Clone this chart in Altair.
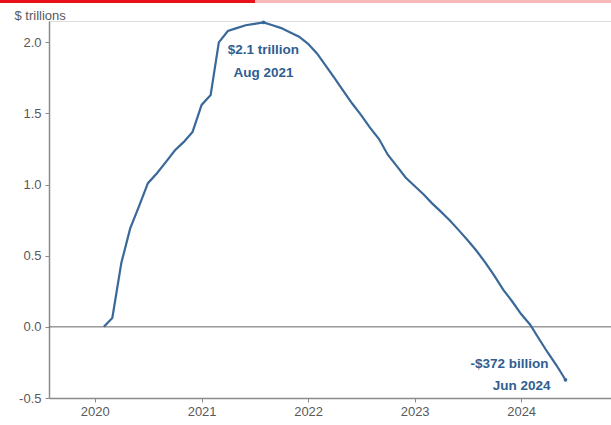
import altair as alt
import pandas as pd

# Monthly values, Feb 2020 .. Jun 2024 ($ trillions)
months = (
    ["2020-%02d" % m for m in range(2, 13)]
    + ["2021-%02d" % m for m in range(1, 13)]
    + ["2022-%02d" % m for m in range(1, 13)]
    + ["2023-%02d" % m for m in range(1, 13)]
    + ["2024-%02d" % m for m in range(1, 7)]
)
values = [
    0.0, 0.063, 0.45, 0.69, 0.85, 1.01, 1.08, 1.16, 1.24, 1.30, 1.37,
    1.56, 1.63, 2.00, 2.08, 2.10, 2.12, 2.13, 2.14, 2.12, 2.10, 2.07, 2.04,
    1.99, 1.92, 1.84, 1.75, 1.66, 1.57, 1.49, 1.40, 1.32, 1.21, 1.13, 1.05,
    0.99, 0.93, 0.87, 0.81, 0.75, 0.68, 0.61, 0.535, 0.45, 0.36, 0.26, 0.18,
    0.09, 0.015, -0.08, -0.18, -0.27, -0.372,
]

ann_months = ["2021-08", "2024-06"]
ann_values = [2.14, -0.372]
ann_line1 = ["$2.1 trillion", "-$372 billion"]
ann_line2 = ["Aug 2021", "Jun 2024"]

y_ticks = [-0.5, 0.0, 0.5, 1.0, 1.5, 2.0]

df = pd.DataFrame({"date": [m + "-01" for m in months], "value": values})
ann = pd.DataFrame({
    "date": [m + "-01" for m in ann_months],
    "value": ann_values,
    "l1": ann_line1,
    "l2": ann_line2,
})

BLUE = "#3a6898"
TXT_BLUE = "#2f5e91"
GRAY = "#8a8a8a"
LABEL = "#595959"

xscale = alt.Scale(
    type="utc",
    domain=[alt.DateTime(year=2019, month=7, date=28, utc=True),
            alt.DateTime(year=2024, month=11, date=4, utc=True)],
)
yscale = alt.Scale(domain=[-0.5, 2.15], nice=False, zero=False)

x_enc = alt.X(
    "date:T", scale=xscale,
    axis=alt.Axis(format="%Y", tickCount="year", title=None, grid=False,
                  domainColor=GRAY, domainWidth=1.5, tickColor=GRAY, tickSize=4,
                  labelColor=LABEL, labelFontSize=13, labelPadding=3),
)
y_enc = alt.Y(
    "value:Q", scale=yscale,
    axis=alt.Axis(values=y_ticks, title="$ trillions", grid=False,
                  labelExpr="datum.value < 0 ? '-' + format(-datum.value, '.1f') : format(datum.value, '.1f')",
                  titleAngle=0, titleAlign="left", titleBaseline="middle",
                  titleX=-35, titleY=-6, titleFontSize=13, titleFontWeight="normal",
                  titleColor=LABEL,
                  domainColor=GRAY, domainWidth=1.5, tickColor=GRAY, tickSize=4,
                  labelColor=LABEL, labelFontSize=13, labelPadding=4),
)

line = alt.Chart(df).mark_line(color=BLUE, strokeWidth=2.2).encode(x=x_enc, y=y_enc)

zero = alt.Chart(pd.DataFrame({"v": [0.0]})).mark_rule(color="#666666", strokeWidth=1).encode(
    y=alt.Y("v:Q", scale=yscale)
)

dots = alt.Chart(ann).mark_point(filled=True, color=BLUE, size=14, opacity=1).encode(
    x=alt.X("date:T", scale=xscale), y=alt.Y("value:Q", scale=yscale)
)

peak = ann.iloc[[0]]
trough = ann.iloc[[1]]

peak_t1 = alt.Chart(peak).mark_text(fontSize=13.5, fontWeight="bold", color=TXT_BLUE,
                                    align="center", baseline="middle", dy=28).encode(
    x=alt.X("date:T", scale=xscale), y=alt.Y("value:Q", scale=yscale), text="l1:N")
peak_t2 = alt.Chart(peak).mark_text(fontSize=13.5, fontWeight="bold", color=TXT_BLUE,
                                    align="center", baseline="middle", dy=51).encode(
    x=alt.X("date:T", scale=xscale), y=alt.Y("value:Q", scale=yscale), text="l2:N")
tr_t1 = alt.Chart(trough).mark_text(fontSize=13.5, fontWeight="bold", color=TXT_BLUE,
                                    align="right", baseline="middle", dx=-17, dy=-16).encode(
    x=alt.X("date:T", scale=xscale), y=alt.Y("value:Q", scale=yscale), text="l1:N")
tr_t2 = alt.Chart(trough).mark_text(fontSize=13.5, fontWeight="bold", color=TXT_BLUE,
                                    align="right", baseline="middle", dx=-15, dy=6).encode(
    x=alt.X("date:T", scale=xscale), y=alt.Y("value:Q", scale=yscale), text="l2:N")

one = pd.DataFrame({"a": [0]})
bar_red = alt.Chart(one).mark_rect(color="#e8101a").encode(
    x=alt.value(-49), x2=alt.value(206), y=alt.value(-21), y2=alt.value(-18))
bar_pink = alt.Chart(one).mark_rect(color="#f7b8b8").encode(
    x=alt.value(206), x2=alt.value(562), y=alt.value(-21), y2=alt.value(-18))

chart = alt.layer(
    zero, line, dots, peak_t1, peak_t2, tr_t1, tr_t2, bar_red, bar_pink
).properties(
    width=562, height=377,
    autosize=alt.AutoSizeParams(type="none"),
    padding={"left": 49, "top": 21, "right": 0, "bottom": 27},
    background="white",
).configure_view(stroke=None).configure(font="Liberation Sans")

chart.save("out.html", embed_options={"renderer": "svg", "actions": False})
